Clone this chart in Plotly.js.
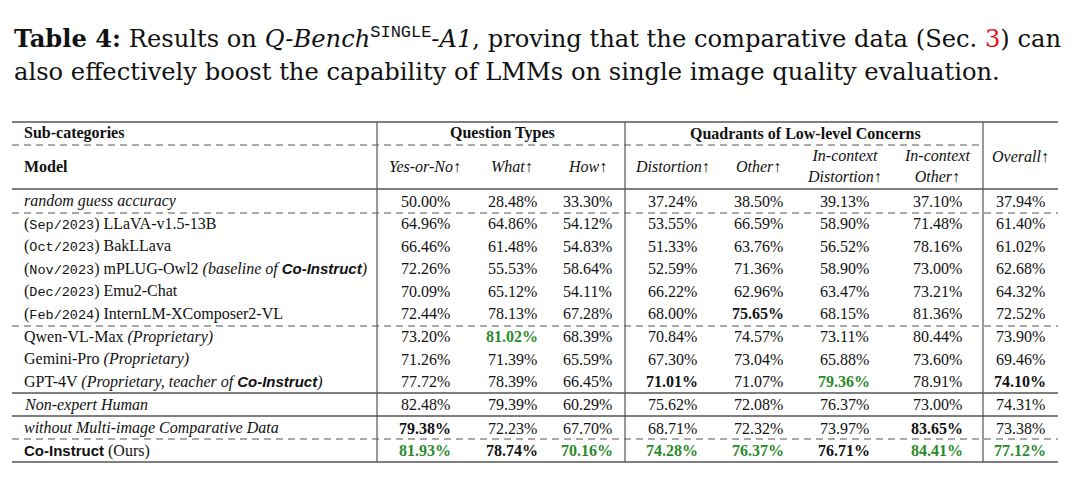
<!DOCTYPE html>
<html lang="en">
<head>
<meta charset="utf-8">
<script src="https://cdn.plot.ly/plotly-3.0.1.min.js"></script>
<title>Q-Bench SINGLE A1</title>
<style>html,body{margin:0;padding:0;background:#fff}</style>
</head>
<body>
<div id="divTable" style="width:1080px;height:481px"></div>
<script>
// rows of the table
var modelDates = ['', 'Sep/2023', 'Oct/2023', 'Nov/2023', 'Dec/2023', 'Feb/2024', '', '', '', '', '', ''];
var modelNames = ['random guess accuracy', 'LLaVA-v1.5-13B', 'BakLLava', 'mPLUG-Owl2', 'Emu2-Chat',
    'InternLM-XComposer2-VL', 'Qwen-VL-Max', 'Gemini-Pro', 'GPT-4V', 'Non-expert Human',
    'without Multi-image Comparative Data', 'Co-Instruct'];
var modelNotes = ['', '', '', 'baseline of Co-Instruct', '', '', 'Proprietary', 'Proprietary',
    'Proprietary, teacher of Co-Instruct', '', '', 'Ours'];

// columns
var colHeaders = ['Yes-or-No↑', 'What↑', 'How↑', 'Distortion↑', 'Other↑',
    'In-context<br>Distortion↑', 'In-context<br>Other↑', 'Overall↑'];
var yesNo        = [50.00, 64.96, 66.46, 72.26, 70.09, 72.44, 73.20, 71.26, 77.72, 82.48, 79.38, 81.93];
var what         = [28.48, 64.86, 61.48, 55.53, 65.12, 78.13, 81.02, 71.39, 78.39, 79.39, 72.23, 78.74];
var how          = [33.30, 54.12, 54.83, 58.64, 54.11, 67.28, 68.39, 65.59, 66.45, 60.29, 67.70, 70.16];
var distortion   = [37.24, 53.55, 51.33, 52.59, 66.22, 68.00, 70.84, 67.30, 71.01, 75.62, 68.71, 74.28];
var other        = [38.50, 66.59, 63.76, 71.36, 62.96, 75.65, 74.57, 73.04, 71.07, 72.08, 72.32, 76.37];
var icDistortion = [39.13, 58.90, 56.52, 58.90, 63.47, 68.15, 73.11, 65.88, 79.36, 76.37, 73.97, 76.71];
var icOther      = [37.10, 71.48, 78.16, 73.00, 73.21, 81.36, 80.44, 73.60, 78.91, 73.00, 83.65, 84.41];
var overall      = [37.94, 61.40, 61.02, 62.68, 64.32, 72.52, 73.90, 69.46, 74.10, 74.31, 73.38, 77.12];

// highlighted cells [row, col]
var greenCells = [[6,1], [8,5], [11,0], [11,2], [11,3], [11,4], [11,6], [11,7]];
var boldCells  = [[5,4], [8,3], [8,7], [10,0], [10,6], [11,1], [11,5]];

var columns = [yesNo, what, how, distortion, other, icDistortion, icOther, overall];

// layout helpers (pixel space)
var SERIF = 'Liberation Serif';
var CAPTION = 'DejaVu Serif';
var MONO = 'Liberation Mono';
var SANS = 'Liberation Sans';
var INK = '#111';
var GREEN = '#2a8a2a';
var colX = [425, 512, 587, 672, 758, 844, 937, 1020];
var leftX = 22;
var rowStep = 22.5;
var rowGap = [0, 0, 0, 0, 0, 0, 0.5, 0.5, 0.5, 1, 2, 2];
var rowY = modelNames.map(function (_, i) { return 201 + i * rowStep + rowGap[i]; });
var tableL = 12, tableR = 1058;
var vLines = [377, 625, 983];

var CI = '<span style="font-family:' + SANS + ';font-size:15px"><b>Co-Instruct</b></span>';

function modelLabel(i) {
    if (i === 0 || i === 9 || i === 10) return '<i>' + modelNames[i] + '</i>';
    if (i === 11) return CI + ' (' + modelNotes[i] + ')';
    var s = '';
    if (modelDates[i]) s += '(<span style="font-family:' + MONO + ';font-size:13.5px">' + modelDates[i] + '</span>) ';
    s += modelNames[i];
    if (modelNotes[i]) s += ' <i>(' + modelNotes[i].replace('Co-Instruct', CI) + ')</i>';
    return s;
}

function has(list, r, c) {
    return list.some(function (p) { return p[0] === r && p[1] === c; });
}

var annotations = [];
function addText(x, y, text, anchor, size, family) {
    annotations.push({
        x: x, y: y, xref: 'x', yref: 'y', text: text, showarrow: false,
        xanchor: anchor || 'center', yanchor: 'middle',
        font: {family: family || SERIF, size: size || 16, color: INK}
    });
}

// caption
addText(12, 38, '<b>Table 4:</b> Results on <i>Q-Bench</i><sup><span style="font-family:' + MONO +
    '">SINGLE</span></sup><i>-A1</i>, proving that the comparative data (Sec. <span style="color:#e8141c">3</span>) can',
    'left', 24.2, CAPTION);
addText(12, 72, 'also effectively boost the capability of LMMs on single image quality evaluation.',
    'left', 24.2, CAPTION);

// headers
addText(leftX, 133, '<b>Sub-categories</b>', 'left');
addText(502, 133, '<b>Question Types</b>');
addText(805, 133, '<b>Quadrants of Low-level Concerns</b>');
addText(leftX, 166, '<b>Model</b>', 'left');
colHeaders.forEach(function (h, c) {
    addText(colX[c], c === 7 ? 156 : 166, '<i>' + h + '</i>');
});

// body
modelNames.forEach(function (_, r) {
    addText(leftX, rowY[r], modelLabel(r), 'left');
    columns.forEach(function (col, c) {
        var t = col[r].toFixed(2) + '%';
        if (has(greenCells, r, c)) t = '<b><span style="color:' + GREEN + '">' + t + '</span></b>';
        else if (has(boldCells, r, c)) t = '<b>' + t + '</b>';
        addText(colX[c], rowY[r], t);
    });
});

// rules
var shapes = [];
function hLine(y, dashed, x1) {
    shapes.push({type: 'line', xref: 'x', yref: 'y', x0: tableL, x1: x1 || tableR, y0: y, y1: y,
        line: {color: '#555', width: dashed ? 1 : 1.3, dash: dashed ? '7px,5px' : 'solid'}});
}
hLine(122, false);
hLine(145, true, vLines[2]);
hLine(189, false);
hLine(213, true);
hLine(326, true);
hLine(393, false);
hLine(416, false);
hLine(439, true);
hLine(462, false);
vLines.forEach(function (x) {
    shapes.push({type: 'line', xref: 'x', yref: 'y', x0: x, x1: x, y0: 122, y1: 462,
        line: {color: '#555', width: 1.2}});
});

var layout = {
    width: 1080, height: 481,
    margin: {l: 0, r: 0, t: 0, b: 0},
    paper_bgcolor: '#fff', plot_bgcolor: '#fff',
    xaxis: {range: [0, 1080], visible: false, fixedrange: true},
    yaxis: {range: [481, 0], visible: false, fixedrange: true},
    showlegend: false,
    annotations: annotations,
    shapes: shapes
};
Plotly.newPlot('divTable', [], layout, {staticPlot: true});
</script>
</body>
</html>
